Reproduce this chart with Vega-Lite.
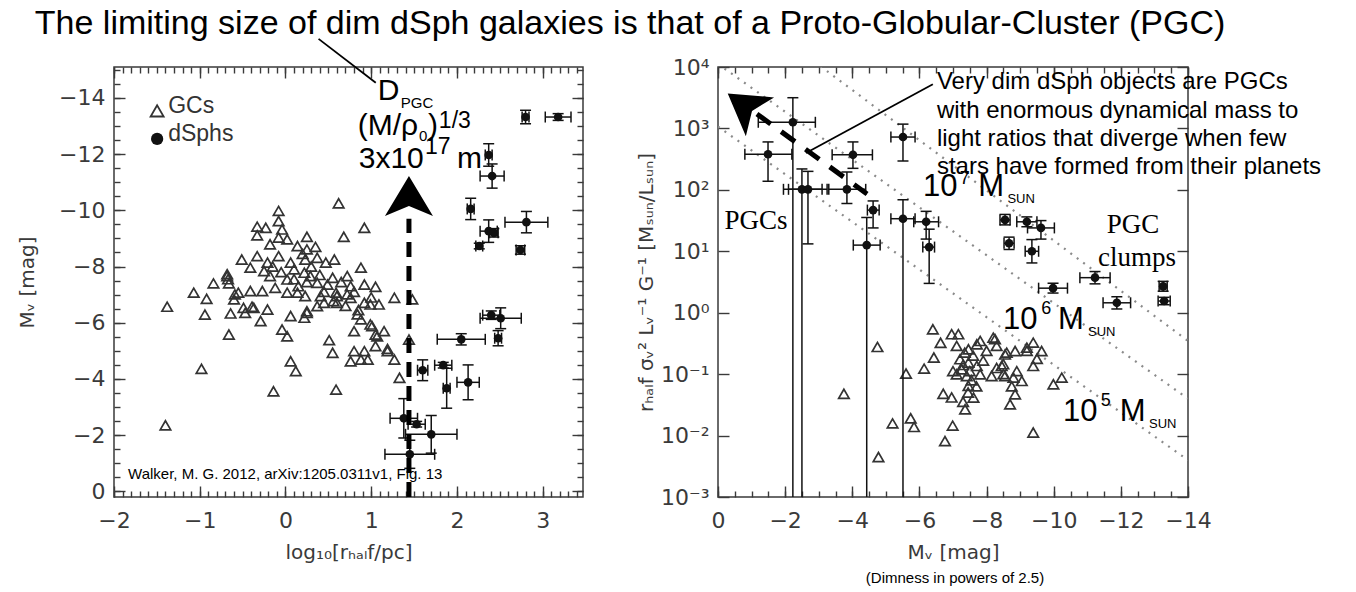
{
"$schema": "https://vega.github.io/schema/vega-lite/v6.json",
"background": "white",
"padding": {"left": 16, "top": 6, "right": 0, "bottom": 0},
"title": {"text": "The limiting size of dim dSph galaxies is that of a Proto-Globular-Cluster (PGC)", "font": "Liberation Sans", "fontSize": 34, "fontWeight": "normal", "color": "#000", "anchor": "start", "dx": 18, "offset": -6},
"spacing": 50,
"datasets": {
"leftGC": [{"x":0.62,"y":-10.25},{"x":-0.08,"y":-9.98},{"x":0.92,"y":-9.38},{"x":0.68,"y":-9.06},{"x":-0.33,"y":-9.42},{"x":-0.23,"y":-9.38},{"x":-0.08,"y":-9.62},{"x":-0.04,"y":-9.32},{"x":0.25,"y":-9.06},{"x":-0.33,"y":-9.11},{"x":-0.18,"y":-8.79},{"x":0.02,"y":-8.97},{"x":0.14,"y":-8.73},{"x":-0.08,"y":-9.03},{"x":0.25,"y":-8.61},{"x":-0.51,"y":-8.25},{"x":-0.33,"y":-8.37},{"x":-0.21,"y":-8.14},{"x":-0.08,"y":-8.37},{"x":0.06,"y":-8.14},{"x":0.23,"y":-8.25},{"x":0.37,"y":-8.31},{"x":0.47,"y":-8.14},{"x":0.57,"y":-8.25},{"x":0.88,"y":-7.96},{"x":0.72,"y":-7.66},{"x":-0.41,"y":-7.96},{"x":-0.25,"y":-7.84},{"x":-0.68,"y":-7.66},{"x":-0.84,"y":-7.4},{"x":-0.66,"y":-7.4},{"x":-0.18,"y":-7.66},{"x":0.02,"y":-7.54},{"x":0.22,"y":-7.78},{"x":0.29,"y":-7.66},{"x":0.37,"y":-7.42},{"x":0.49,"y":-7.36},{"x":0.76,"y":-7.3},{"x":0.92,"y":-7.36},{"x":1.05,"y":-7.28},{"x":-1.07,"y":-7.07},{"x":-0.92,"y":-6.85},{"x":-0.59,"y":-7.01},{"x":-0.41,"y":-7.13},{"x":-0.27,"y":-7.13},{"x":-0.12,"y":-7.24},{"x":0.02,"y":-7.07},{"x":0.14,"y":-7.07},{"x":0.23,"y":-6.95},{"x":0.41,"y":-6.95},{"x":0.59,"y":-7.07},{"x":0.45,"y":-6.71},{"x":0.6,"y":-6.71},{"x":0.76,"y":-6.89},{"x":0.92,"y":-6.71},{"x":0.99,"y":-6.65},{"x":1.09,"y":-6.65},{"x":1.27,"y":-6.89},{"x":-1.38,"y":-6.57},{"x":-0.94,"y":-6.29},{"x":-0.64,"y":-6.33},{"x":-0.49,"y":-6.53},{"x":-0.39,"y":-6.57},{"x":-0.21,"y":-6.47},{"x":0.06,"y":-6.24},{"x":0.22,"y":-6.18},{"x":0.25,"y":-6.41},{"x":-0.29,"y":-6.06},{"x":0.88,"y":-6.12},{"x":0.99,"y":-5.94},{"x":-0.04,"y":-5.76},{"x":0.02,"y":-5.52},{"x":0.8,"y":-5.7},{"x":1.15,"y":-5.7},{"x":1.07,"y":-5.52},{"x":-0.66,"y":-5.58},{"x":0.51,"y":-5.38},{"x":0.55,"y":-4.93},{"x":0.8,"y":-4.99},{"x":0.92,"y":-4.99},{"x":0.96,"y":-4.69},{"x":0.76,"y":-4.63},{"x":1.19,"y":-5.07},{"x":1.27,"y":-4.69},{"x":-0.98,"y":-4.36},{"x":0.06,"y":-4.63},{"x":0.12,"y":-4.28},{"x":1.33,"y":-4.04},{"x":-0.14,"y":-3.56},{"x":0.59,"y":-3.62},{"x":-1.4,"y":-2.35},{"x":1.05,"y":-5.17},{"x":1.01,"y":-5.88},{"x":1.05,"y":-5.58},{"x":0.84,"y":-6.3},{"x":0.25,"y":-6.35},{"x":0.37,"y":-6.59},{"x":0.56,"y":-6.77},{"x":0.72,"y":-7.01},{"x":-0.47,"y":-6.35},{"x":-0.37,"y":-6.53},{"x":-0.6,"y":-6.83},{"x":-0.55,"y":-7.07},{"x":1.48,"y":-6.83},{"x":1.19,"y":-4.99},{"x":1.44,"y":-5.4},{"x":-0.68,"y":-7.73},{"x":-0.67,"y":-7.55},{"x":0.88,"y":-4.69},{"x":0.1,"y":-7.9},{"x":0.3,"y":-8.0},{"x":0.15,"y":-7.3},{"x":0.4,"y":-7.7},{"x":0.55,"y":-7.6},{"x":-0.05,"y":-7.8},{"x":0.2,"y":-8.45},{"x":0.35,"y":-8.7},{"x":0.45,"y":-7.1},{"x":0.65,"y":-7.45},{"x":0.8,"y":-7.1},{"x":0.1,"y":-7.55},{"x":-0.15,"y":-8.0},{"x":0.25,"y":-7.45},{"x":0.6,"y":-6.95},{"x":0.7,"y":-6.6},{"x":0.85,"y":-6.45},{"x":1.0,"y":-6.9}],
"leftDS": [{"x":2.8,"y":-13.32,"xlo":2.76,"xhi":2.84,"ylo":-13.56,"yhi":-13.08},{"x":3.18,"y":-13.32,"xlo":3.03,"xhi":3.33,"ylo":-13.44,"yhi":-13.2},{"x":2.37,"y":-11.97,"xlo":2.33,"xhi":2.41,"ylo":-12.37,"yhi":-11.57},{"x":2.41,"y":-11.22,"xlo":2.27,"xhi":2.55,"ylo":-11.65,"yhi":-10.79},{"x":2.16,"y":-10.05,"xlo":2.12,"xhi":2.2,"ylo":-10.43,"yhi":-9.67},{"x":2.81,"y":-9.58,"xlo":2.56,"xhi":3.06,"ylo":-9.96,"yhi":-9.2},{"x":2.37,"y":-9.26,"xlo":2.27,"xhi":2.47,"ylo":-9.66,"yhi":-8.86},{"x":2.43,"y":-9.2,"xlo":2.38,"xhi":2.48,"ylo":-9.35,"yhi":-9.05},{"x":2.26,"y":-8.73,"xlo":2.22,"xhi":2.3,"ylo":-8.83,"yhi":-8.63},{"x":2.74,"y":-8.59,"xlo":2.69,"xhi":2.79,"ylo":-8.74,"yhi":-8.44},{"x":2.4,"y":-6.27,"xlo":2.3,"xhi":2.5,"ylo":-6.42,"yhi":-6.12},{"x":2.51,"y":-6.16,"xlo":2.27,"xhi":2.75,"ylo":-6.53,"yhi":-5.79},{"x":2.05,"y":-5.41,"xlo":1.77,"xhi":2.33,"ylo":-5.61,"yhi":-5.21},{"x":2.48,"y":-5.45,"xlo":2.44,"xhi":2.52,"ylo":-5.72,"yhi":-5.18},{"x":1.6,"y":-4.31,"xlo":1.54,"xhi":1.66,"ylo":-4.68,"yhi":-3.94},{"x":1.84,"y":-4.49,"xlo":1.74,"xhi":1.94,"ylo":-4.59,"yhi":-4.39},{"x":1.88,"y":-3.67,"xlo":1.84,"xhi":1.92,"ylo":-4.38,"yhi":-2.96},{"x":2.13,"y":-3.88,"xlo":2.0,"xhi":2.26,"ylo":-4.5,"yhi":-3.26},{"x":1.38,"y":-2.6,"xlo":1.22,"xhi":1.54,"ylo":-3.3,"yhi":-1.9},{"x":1.53,"y":-2.39,"xlo":1.43,"xhi":1.63,"ylo":-2.49,"yhi":-2.29},{"x":1.7,"y":-2.03,"xlo":1.4,"xhi":2.0,"ylo":-2.7,"yhi":-1.36},{"x":1.45,"y":-1.32,"xlo":1.16,"xhi":1.74,"ylo":-1.82,"yhi":-0.82}],
"rightGC": [{"x":-3.75,"y":0.0479},{"x":-4.75,"y":0.277},{"x":-4.78,"y":0.00447},{"x":-5.2,"y":0.0158},{"x":-5.6,"y":0.102},{"x":-5.74,"y":0.0191},{"x":-5.84,"y":0.0138},{"x":-6.4,"y":0.537},{"x":-6.63,"y":0.324},{"x":-6.43,"y":0.186},{"x":-6.14,"y":0.123},{"x":-6.71,"y":0.0479},{"x":-6.96,"y":0.0417},{"x":-6.99,"y":0.0145},{"x":-6.76,"y":0.00813},{"x":-6.96,"y":0.447},{"x":-7.16,"y":0.447},{"x":-7.11,"y":0.288},{"x":-7.46,"y":0.254},{"x":-7.71,"y":0.306},{"x":-7.81,"y":0.347},{"x":-8.2,"y":0.393},{"x":-8.3,"y":0.288},{"x":-8.6,"y":0.224},{"x":-8.85,"y":0.238},{"x":-9.2,"y":0.27},{"x":-9.39,"y":0.326},{"x":-9.64,"y":0.238},{"x":-7.21,"y":0.175},{"x":-7.26,"y":0.12},{"x":-7.46,"y":0.154},{"x":-7.71,"y":0.136},{"x":-7.11,"y":0.0993},{"x":-7.41,"y":0.0933},{"x":-7.81,"y":0.0993},{"x":-8.15,"y":0.0933},{"x":-8.45,"y":0.136},{"x":-8.55,"y":0.0933},{"x":-8.8,"y":0.0877},{"x":-9.05,"y":0.0774},{"x":-9.39,"y":0.136},{"x":-9.99,"y":0.0684},{"x":-10.24,"y":0.0877},{"x":-7.46,"y":0.0643},{"x":-7.61,"y":0.0415},{"x":-7.36,"y":0.0268},{"x":-8.7,"y":0.0323},{"x":-8.85,"y":0.047},{"x":-9.39,"y":0.0112},{"x":-8.25,"y":0.372},{"x":-8.55,"y":0.209},{"x":-9.2,"y":0.24},{"x":-8.5,"y":0.145},{"x":-8.5,"y":0.1},{"x":-7.3,"y":0.141},{"x":-7.5,"y":0.112},{"x":-7.6,"y":0.2},{"x":-7.9,"y":0.166},{"x":-7.0,"y":0.112},{"x":-8.0,"y":0.24},{"x":-7.35,"y":0.224},{"x":-7.55,"y":0.0794},{"x":-7.7,"y":0.0631},{"x":-8.3,"y":0.126},{"x":-8.9,"y":0.112},{"x":-9.5,"y":0.178},{"x":-7.45,"y":0.0501},{"x":-7.3,"y":0.0355},{"x":-8.75,"y":0.0631}],
"rightDS": [{"x":-2.23,"y":1259,"xlo":-1.2,"xhi":-2.9,"ylo":0.00001,"yhi":3162},{"x":-1.49,"y":380,"xlo":-0.8,"xhi":-2.2,"ylo":138,"yhi":603},{"x":-2.5,"y":102,"xlo":-1.95,"xhi":-3.1,"ylo":0.00001,"yhi":219},{"x":-2.68,"y":102,"xlo":-2.1,"xhi":-3.25,"ylo":13.2,"yhi":200},{"x":-3.84,"y":102,"xlo":-3.3,"xhi":-4.4,"ylo":60,"yhi":195},{"x":-4.02,"y":372,"xlo":-3.4,"xhi":-4.6,"ylo":224,"yhi":603},{"x":-5.51,"y":724,"xlo":-5.15,"xhi":-5.87,"ylo":295,"yhi":1175},{"x":-4.62,"y":46.8,"xlo":-4.45,"xhi":-4.8,"ylo":24,"yhi":66},{"x":-4.43,"y":12.6,"xlo":-4.03,"xhi":-4.83,"ylo":0.00001,"yhi":35.5},{"x":-5.51,"y":33.9,"xlo":-5.15,"xhi":-5.87,"ylo":0.00001,"yhi":69},{"x":-6.2,"y":30.2,"xlo":-5.83,"xhi":-6.57,"ylo":15.8,"yhi":44.7},{"x":-6.29,"y":11.7,"xlo":-6.1,"xhi":-6.45,"ylo":3.0,"yhi":22.9},{"x":-8.55,"y":32.4,"xlo":-8.4,"xhi":-8.7,"ylo":26.9,"yhi":39.8},{"x":-9.2,"y":30.2,"xlo":-8.9,"xhi":-9.5,"ylo":25.1,"yhi":36.3},{"x":-9.62,"y":24.0,"xlo":-9.22,"xhi":-10.02,"ylo":15.8,"yhi":31.6},{"x":-8.67,"y":13.5,"xlo":-8.52,"xhi":-8.82,"ylo":10.7,"yhi":17.0},{"x":-9.35,"y":10.0,"xlo":-9.15,"xhi":-9.55,"ylo":6.46,"yhi":15.5},{"x":-9.98,"y":2.51,"xlo":-9.55,"xhi":-10.41,"ylo":2.09,"yhi":3.02},{"x":-11.23,"y":3.72,"xlo":-10.78,"xhi":-11.68,"ylo":2.95,"yhi":4.68},{"x":-11.88,"y":1.45,"xlo":-11.47,"xhi":-12.29,"ylo":1.15,"yhi":1.82},{"x":-13.26,"y":2.69,"xlo":-13.14,"xhi":-13.38,"ylo":2.24,"yhi":3.24},{"x":-13.29,"y":1.55,"xlo":-13.11,"xhi":-13.47,"ylo":1.35,"yhi":1.78}],
"massLines": [{"m":"1e7","x":0,"y":181970},{"m":"1e7","x":-14,"y":0.3467},{"m":"1e6","x":0,"y":11220},{"m":"1e6","x":-14,"y":0.0398},{"m":"1e5","x":0,"y":1072},{"m":"1e5","x":-14,"y":0.00398}]
},
"hconcat": [
{
"width": 469, "height": 430,
"resolve": {"axis": {"x": "independent", "y": "independent"}},
"layer": [
{"data": {"name": "leftGC"}, "mark": {"type": "point", "shape": "triangle-up", "filled": false, "strokeWidth": 1.7, "color": "#333", "size": 110, "opacity": 1},
 "encoding": {
  "x": {"field": "x", "type": "quantitative", "scale": {"domain": [-2, 3.47], "nice": false, "zero": false}, "axis": {"orient": "bottom", "values": [-2,-1,0,1,2,3], "ticks": false, "labelPadding": 13, "title": "log₁₀[rₕₐₗf/pc]", "titlePadding": 11}},
  "y": {"field": "y", "type": "quantitative", "scale": {"domain": [-15.1, 0.2], "reverse": true, "nice": false, "zero": false}, "axis": {"orient": "left", "values": [-14,-12,-10,-8,-6,-4,-2,0], "ticks": false, "labelPadding": 9, "title": "Mᵥ [mag]", "titlePadding": 21}}
 }},
{"data": {"name": "leftDS"}, "mark": {"type": "rule", "strokeWidth": 1.5, "color": "#111"},
 "encoding": {
  "x": {"field": "xlo", "type": "quantitative", "scale": {"domain": [-2, 3.47], "nice": false, "zero": false}, "axis": {"orient": "bottom", "values": [-2,-1,0,1,2,3], "tickSize": -11, "labels": false, "title": null}},
  "x2": {"field": "xhi"},
  "y": {"field": "y", "type": "quantitative", "scale": {"domain": [-15.1, 0.2], "reverse": true, "nice": false, "zero": false}, "axis": {"orient": "left", "values": [-14,-12,-10,-8,-6,-4,-2,0], "tickSize": -11, "labels": false, "title": null}}
 }},
{"data": {"name": "leftDS"}, "mark": {"type": "rule", "strokeWidth": 1.5, "color": "#111"},
 "encoding": {
  "x": {"field": "x", "type": "quantitative", "scale": {"domain": [-2, 3.47], "nice": false, "zero": false}, "axis": {"orient": "bottom", "values": [-2,-1.9,-1.8,-1.7,-1.6,-1.5,-1.4,-1.3,-1.2,-1.1,-1,-0.9,-0.8,-0.7,-0.6,-0.5,-0.4,-0.3,-0.2,-0.1,0,0.1,0.2,0.3,0.4,0.5,0.6,0.7,0.8,0.9,1,1.1,1.2,1.3,1.4,1.5,1.6,1.7,1.8,1.9,2,2.1,2.2,2.3,2.4,2.5,2.6,2.7,2.8,2.9,3,3.1,3.2,3.3,3.4], "tickSize": -6, "labels": false, "title": null}},
  "y": {"field": "ylo", "type": "quantitative", "scale": {"domain": [-15.1, 0.2], "reverse": true, "nice": false, "zero": false}, "axis": {"orient": "left", "values": [-15,-14.5,-14,-13.5,-13,-12.5,-12,-11.5,-11,-10.5,-10,-9.5,-9,-8.5,-8,-7.5,-7,-6.5,-6,-5.5,-5,-4.5,-4,-3.5,-3,-2.5,-2,-1.5,-1,-0.5,0], "tickSize": -6, "labels": false, "title": null}},
  "y2": {"field": "yhi"}
 }},
{"data": {"name": "leftDS"}, "mark": {"type": "tick", "orient": "horizontal", "size": 11, "thickness": 1.5, "color": "#111", "opacity": 1},
 "encoding": {
  "x": {"field": "x", "type": "quantitative", "scale": {"domain": [-2, 3.47], "nice": false, "zero": false}, "axis": {"orient": "top", "values": [-2,-1,0,1,2,3], "tickSize": -11, "labels": false, "title": null}},
  "y": {"field": "ylo", "type": "quantitative", "scale": {"domain": [-15.1, 0.2], "reverse": true, "nice": false, "zero": false}, "axis": {"orient": "right", "values": [-14,-12,-10,-8,-6,-4,-2,0], "tickSize": -11, "labels": false, "title": null}}
 }},
{"data": {"name": "leftDS"}, "mark": {"type": "tick", "orient": "horizontal", "size": 11, "thickness": 1.5, "color": "#111", "opacity": 1},
 "encoding": {
  "x": {"field": "x", "type": "quantitative", "scale": {"domain": [-2, 3.47], "nice": false, "zero": false}, "axis": {"orient": "top", "values": [-2,-1.9,-1.8,-1.7,-1.6,-1.5,-1.4,-1.3,-1.2,-1.1,-1,-0.9,-0.8,-0.7,-0.6,-0.5,-0.4,-0.3,-0.2,-0.1,0,0.1,0.2,0.3,0.4,0.5,0.6,0.7,0.8,0.9,1,1.1,1.2,1.3,1.4,1.5,1.6,1.7,1.8,1.9,2,2.1,2.2,2.3,2.4,2.5,2.6,2.7,2.8,2.9,3,3.1,3.2,3.3,3.4], "tickSize": -6, "labels": false, "title": null}},
  "y": {"field": "yhi", "type": "quantitative", "scale": {"domain": [-15.1, 0.2], "reverse": true, "nice": false, "zero": false}, "axis": {"orient": "right", "values": [-15,-14.5,-14,-13.5,-13,-12.5,-12,-11.5,-11,-10.5,-10,-9.5,-9,-8.5,-8,-7.5,-7,-6.5,-6,-5.5,-5,-4.5,-4,-3.5,-3,-2.5,-2,-1.5,-1,-0.5,0], "tickSize": -6, "labels": false, "title": null}}
 }},
{"data": {"name": "leftDS"}, "mark": {"type": "tick", "orient": "vertical", "size": 11, "thickness": 1.5, "color": "#111", "opacity": 1},
 "encoding": {
  "x": {"field": "xlo", "type": "quantitative", "scale": {"domain": [-2, 3.47], "nice": false, "zero": false}, "axis": null},
  "y": {"field": "y", "type": "quantitative", "scale": {"domain": [-15.1, 0.2], "reverse": true, "nice": false, "zero": false}, "axis": null}
 }},
{"data": {"name": "leftDS"}, "mark": {"type": "tick", "orient": "vertical", "size": 11, "thickness": 1.5, "color": "#111", "opacity": 1},
 "encoding": {
  "x": {"field": "xhi", "type": "quantitative", "scale": {"domain": [-2, 3.47], "nice": false, "zero": false}, "axis": null},
  "y": {"field": "y", "type": "quantitative", "scale": {"domain": [-15.1, 0.2], "reverse": true, "nice": false, "zero": false}, "axis": null}
 }},
{"data": {"name": "leftDS"}, "mark": {"type": "point", "shape": "circle", "filled": true, "size": 75, "color": "#111", "opacity": 1},
 "encoding": {
  "x": {"field": "x", "type": "quantitative", "scale": {"domain": [-2, 3.47], "nice": false, "zero": false}, "axis": null},
  "y": {"field": "y", "type": "quantitative", "scale": {"domain": [-15.1, 0.2], "reverse": true, "nice": false, "zero": false}, "axis": null}
 }},
{"data": {"values": [{"x":-1.497,"y":-13.54}]}, "mark": {"type": "point", "shape": "triangle-up", "filled": false, "strokeWidth": 1.8, "color": "#333", "size": 170, "opacity": 1},
 "encoding": {
  "x": {"field": "x", "type": "quantitative", "scale": {"domain": [-2, 3.47], "nice": false, "zero": false}, "axis": null},
  "y": {"field": "y", "type": "quantitative", "scale": {"domain": [-15.1, 0.2], "reverse": true, "nice": false, "zero": false}, "axis": null}
 }},
{"data": {"values": [{"x":-1.497,"y":-12.54}]}, "mark": {"type": "point", "shape": "circle", "filled": true, "color": "#111", "size": 150, "opacity": 1},
 "encoding": {
  "x": {"field": "x", "type": "quantitative", "scale": {"domain": [-2, 3.47], "nice": false, "zero": false}, "axis": null},
  "y": {"field": "y", "type": "quantitative", "scale": {"domain": [-15.1, 0.2], "reverse": true, "nice": false, "zero": false}, "axis": null}
 }},
{"data": {"values": [{"x":-1.368,"y":-13.47,"t":"GCs"},{"x":-1.368,"y":-12.47,"t":"dSphs"}]},
 "mark": {"type": "text", "font": "Liberation Sans", "fontSize": 23, "align": "left", "baseline": "alphabetic", "color": "#333"},
 "encoding": {
  "x": {"field": "x", "type": "quantitative", "scale": {"domain": [-2, 3.47], "nice": false, "zero": false}, "axis": null},
  "y": {"field": "y", "type": "quantitative", "scale": {"domain": [-15.1, 0.2], "reverse": true, "nice": false, "zero": false}, "axis": null},
  "text": {"field": "t"}
 }},
{"data": {"values": [{"x":1.44,"y":0.2},{"x":1.44,"y":-9.7}]}, "mark": {"type": "line", "strokeWidth": 5, "color": "#000", "strokeDash": [15, 9], "strokeCap": "butt", "clip": true},
 "encoding": {
  "x": {"field": "x", "type": "quantitative", "scale": {"domain": [-2, 3.47], "nice": false, "zero": false}, "axis": null},
  "y": {"field": "y", "type": "quantitative", "scale": {"domain": [-15.1, 0.2], "reverse": true, "nice": false, "zero": false}, "axis": null}
 }},
{"data": {"values": [{"x":1.44,"y":-10.51}]}, "mark": {"type": "point", "shape": "M0,-0.83L1,0.83L0,0.42L-1,0.83Z", "size": 2304, "filled": true, "color": "#000", "opacity": 1},
 "encoding": {
  "x": {"field": "x", "type": "quantitative", "scale": {"domain": [-2, 3.47], "nice": false, "zero": false}, "axis": null},
  "y": {"field": "y", "type": "quantitative", "scale": {"domain": [-15.1, 0.2], "reverse": true, "nice": false, "zero": false}, "axis": null}
 }},
{"data": {"values": [{"x":0.386,"y":-16.1},{"x":1.053,"y":-14.54}]}, "mark": {"type": "line", "strokeWidth": 1.8, "color": "#000", "clip": false},
 "encoding": {
  "x": {"field": "x", "type": "quantitative", "scale": {"domain": [-2, 3.47], "nice": false, "zero": false}, "axis": null},
  "y": {"field": "y", "type": "quantitative", "scale": {"domain": [-15.1, 0.2], "reverse": true, "nice": false, "zero": false}, "axis": null}
 }},
{"data": {"values": [{"x":1.076,"y":-13.93,"t":"D"},{"x":0.842,"y":-12.68,"t":"(M/ρ"},{"x":1.661,"y":-12.68,"t":")"},{"x":0.854,"y":-11.51,"t":"3x10"},{"x":2.0,"y":-11.51,"t":"m"}]},
 "mark": {"type": "text", "font": "Liberation Sans", "fontSize": 30, "align": "left", "baseline": "alphabetic", "color": "#000"},
 "encoding": {
  "x": {"field": "x", "type": "quantitative", "scale": {"domain": [-2, 3.47], "nice": false, "zero": false}, "axis": null},
  "y": {"field": "y", "type": "quantitative", "scale": {"domain": [-15.1, 0.2], "reverse": true, "nice": false, "zero": false}, "axis": null},
  "text": {"field": "t"}
 }},
{"data": {"values": [{"x":1.345,"y":-13.64,"t":"PGC"},{"x":1.556,"y":-12.47,"t":"0"}]},
 "mark": {"type": "text", "font": "Liberation Sans", "fontSize": 15, "align": "left", "baseline": "alphabetic", "color": "#000"},
 "encoding": {
  "x": {"field": "x", "type": "quantitative", "scale": {"domain": [-2, 3.47], "nice": false, "zero": false}, "axis": null},
  "y": {"field": "y", "type": "quantitative", "scale": {"domain": [-15.1, 0.2], "reverse": true, "nice": false, "zero": false}, "axis": null},
  "text": {"field": "t"}
 }},
{"data": {"values": [{"x":1.789,"y":-12.93,"t":"1/3"},{"x":1.626,"y":-12.01,"t":"17"}]},
 "mark": {"type": "text", "font": "Liberation Sans", "fontSize": 23, "align": "left", "baseline": "alphabetic", "color": "#000"},
 "encoding": {
  "x": {"field": "x", "type": "quantitative", "scale": {"domain": [-2, 3.47], "nice": false, "zero": false}, "axis": null},
  "y": {"field": "y", "type": "quantitative", "scale": {"domain": [-15.1, 0.2], "reverse": true, "nice": false, "zero": false}, "axis": null},
  "text": {"field": "t"}
 }},
{"data": {"values": [{"x":-1.836,"y":-0.43,"t":"Walker, M. G. 2012, arXiv:1205.0311v1,  Fig. 13"}]},
 "mark": {"type": "text", "font": "Liberation Sans", "fontSize": 15, "align": "left", "baseline": "alphabetic", "color": "#000"},
 "encoding": {
  "x": {"field": "x", "type": "quantitative", "scale": {"domain": [-2, 3.47], "nice": false, "zero": false}, "axis": null},
  "y": {"field": "y", "type": "quantitative", "scale": {"domain": [-15.1, 0.2], "reverse": true, "nice": false, "zero": false}, "axis": null},
  "text": {"field": "t"}
 }}
]
},
{
"width": 470, "height": 430,
"resolve": {"axis": {"x": "independent", "y": "independent"}},
"layer": [
{"data": {"name": "massLines"}, "mark": {"type": "line", "strokeWidth": 2.2, "color": "#8a8a8a", "strokeDash": [2, 6], "clip": true},
 "encoding": {
  "x": {"field": "x", "type": "quantitative", "scale": {"domain": [-14, 0], "reverse": true, "nice": false, "zero": false}, "axis": {"orient": "bottom", "values": [0,-2,-4,-6,-8,-10,-12,-14], "ticks": false, "labelPadding": 13, "title": "Mᵥ [mag]", "titlePadding": 11}},
  "y": {"field": "y", "type": "quantitative", "scale": {"type": "log", "domain": [0.001, 10000], "nice": false}, "axis": {"orient": "left", "values": [0.001,0.01,0.1,1,10,100,1000,10000], "ticks": false, "labelPadding": 9, "labelExpr": "'10' + ['⁻³','⁻²','⁻¹','⁰','¹','²','³','⁴'][round(log(datum.value)/LN10) + 3]", "title": "rₕₐₗf σᵥ² Lᵥ⁻¹ G⁻¹ [Mₛᵤₙ/Lₛᵤₙ]", "titlePadding": 4}},
  "detail": {"field": "m"}
 }},
{"data": {"name": "rightGC"}, "mark": {"type": "point", "shape": "triangle-up", "filled": false, "strokeWidth": 1.7, "color": "#333", "size": 110, "opacity": 1},
 "encoding": {
  "x": {"field": "x", "type": "quantitative", "scale": {"domain": [-14, 0], "reverse": true, "nice": false, "zero": false}, "axis": {"orient": "bottom", "values": [0,-2,-4,-6,-8,-10,-12,-14], "tickSize": -11, "labels": false, "title": null}},
  "y": {"field": "y", "type": "quantitative", "scale": {"type": "log", "domain": [0.001, 10000], "nice": false}, "axis": {"orient": "left", "values": [0.001,0.01,0.1,1,10,100,1000,10000], "tickSize": -11, "labels": false, "title": null}}
 }},
{"data": {"name": "rightDS"}, "mark": {"type": "rule", "strokeWidth": 1.5, "color": "#111", "clip": true},
 "encoding": {
  "x": {"field": "xlo", "type": "quantitative", "scale": {"domain": [-14, 0], "reverse": true, "nice": false, "zero": false}, "axis": {"orient": "bottom", "values": [0,-0.5,-1,-1.5,-2,-2.5,-3,-3.5,-4,-4.5,-5,-5.5,-6,-6.5,-7,-7.5,-8,-8.5,-9,-9.5,-10,-10.5,-11,-11.5,-12,-12.5,-13,-13.5,-14], "tickSize": -6, "labels": false, "title": null}},
  "x2": {"field": "xhi"},
  "y": {"field": "y", "type": "quantitative", "scale": {"type": "log", "domain": [0.001, 10000], "nice": false}, "axis": {"orient": "right", "values": [0.001,0.01,0.1,1,10,100,1000,10000], "tickSize": -11, "labels": false, "title": null}}
 }},
{"data": {"name": "rightDS"}, "mark": {"type": "rule", "strokeWidth": 1.5, "color": "#111", "clip": true},
 "encoding": {
  "x": {"field": "x", "type": "quantitative", "scale": {"domain": [-14, 0], "reverse": true, "nice": false, "zero": false}, "axis": {"orient": "top", "values": [0,-2,-4,-6,-8,-10,-12,-14], "tickSize": -11, "labels": false, "title": null}},
  "y": {"field": "ylo", "type": "quantitative", "scale": {"type": "log", "domain": [0.001, 10000], "nice": false}, "axis": null},
  "y2": {"field": "yhi"}
 }},
{"data": {"name": "rightDS"}, "mark": {"type": "tick", "orient": "horizontal", "size": 11, "thickness": 1.5, "color": "#111", "opacity": 1, "clip": true},
 "encoding": {
  "x": {"field": "x", "type": "quantitative", "scale": {"domain": [-14, 0], "reverse": true, "nice": false, "zero": false}, "axis": {"orient": "top", "values": [0,-0.5,-1,-1.5,-2,-2.5,-3,-3.5,-4,-4.5,-5,-5.5,-6,-6.5,-7,-7.5,-8,-8.5,-9,-9.5,-10,-10.5,-11,-11.5,-12,-12.5,-13,-13.5,-14], "tickSize": -6, "labels": false, "title": null}},
  "y": {"field": "ylo", "type": "quantitative", "scale": {"type": "log", "domain": [0.001, 10000], "nice": false}, "axis": null}
 }},
{"data": {"name": "rightDS"}, "mark": {"type": "tick", "orient": "horizontal", "size": 11, "thickness": 1.5, "color": "#111", "opacity": 1, "clip": true},
 "encoding": {
  "x": {"field": "x", "type": "quantitative", "scale": {"domain": [-14, 0], "reverse": true, "nice": false, "zero": false}, "axis": null},
  "y": {"field": "yhi", "type": "quantitative", "scale": {"type": "log", "domain": [0.001, 10000], "nice": false}, "axis": null}
 }},
{"data": {"name": "rightDS"}, "mark": {"type": "tick", "orient": "vertical", "size": 11, "thickness": 1.5, "color": "#111", "opacity": 1},
 "encoding": {
  "x": {"field": "xlo", "type": "quantitative", "scale": {"domain": [-14, 0], "reverse": true, "nice": false, "zero": false}, "axis": null},
  "y": {"field": "y", "type": "quantitative", "scale": {"type": "log", "domain": [0.001, 10000], "nice": false}, "axis": null}
 }},
{"data": {"name": "rightDS"}, "mark": {"type": "tick", "orient": "vertical", "size": 11, "thickness": 1.5, "color": "#111", "opacity": 1},
 "encoding": {
  "x": {"field": "xhi", "type": "quantitative", "scale": {"domain": [-14, 0], "reverse": true, "nice": false, "zero": false}, "axis": null},
  "y": {"field": "y", "type": "quantitative", "scale": {"type": "log", "domain": [0.001, 10000], "nice": false}, "axis": null}
 }},
{"data": {"name": "rightDS"}, "mark": {"type": "point", "shape": "circle", "filled": true, "size": 75, "color": "#111", "opacity": 1},
 "encoding": {
  "x": {"field": "x", "type": "quantitative", "scale": {"domain": [-14, 0], "reverse": true, "nice": false, "zero": false}, "axis": null},
  "y": {"field": "y", "type": "quantitative", "scale": {"type": "log", "domain": [0.001, 10000], "nice": false}, "axis": null}
 }},
{"data": {"values": [{"x":-4.44,"y":85.7},{"x":-1.16,"y":1718}]}, "mark": {"type": "line", "strokeWidth": 5, "color": "#000", "strokeDash": [17, 13], "strokeCap": "butt"},
 "encoding": {
  "x": {"field": "x", "type": "quantitative", "scale": {"domain": [-14, 0], "reverse": true, "nice": false, "zero": false}, "axis": null},
  "y": {"field": "y", "type": "quantitative", "scale": {"type": "log", "domain": [0.001, 10000], "nice": false}, "axis": null}
 }},
{"data": {"values": [{"x":-0.77,"y":2399}]}, "mark": {"type": "point", "shape": "M0,-0.83L1,0.83L0,0.42L-1,0.83Z", "size": 2304, "angle": -54, "filled": true, "color": "#000", "opacity": 1},
 "encoding": {
  "x": {"field": "x", "type": "quantitative", "scale": {"domain": [-14, 0], "reverse": true, "nice": false, "zero": false}, "axis": null},
  "y": {"field": "y", "type": "quantitative", "scale": {"type": "log", "domain": [0.001, 10000], "nice": false}, "axis": null}
 }},
{"data": {"values": [{"x":-6.4,"y":5248},{"x":-2.62,"y":398}]}, "mark": {"type": "line", "strokeWidth": 1.8, "color": "#000"},
 "encoding": {
  "x": {"field": "x", "type": "quantitative", "scale": {"domain": [-14, 0], "reverse": true, "nice": false, "zero": false}, "axis": null},
  "y": {"field": "y", "type": "quantitative", "scale": {"type": "log", "domain": [0.001, 10000], "nice": false}, "axis": null}
 }},
{"data": {"values": [{"x":-6.52,"y":4385,"t":"Very dim dSph objects are PGCs"},{"x":-6.52,"y":1479,"t":"with enormous dynamical mass to"},{"x":-6.52,"y":517.6,"t":"light ratios that diverge when few"},{"x":-6.52,"y":181.2,"t":"stars have formed from their planets"}]},
 "mark": {"type": "text", "font": "Liberation Sans", "fontSize": 24, "align": "left", "baseline": "alphabetic", "color": "#000"},
 "encoding": {
  "x": {"field": "x", "type": "quantitative", "scale": {"domain": [-14, 0], "reverse": true, "nice": false, "zero": false}, "axis": null},
  "y": {"field": "y", "type": "quantitative", "scale": {"type": "log", "domain": [0.001, 10000], "nice": false}, "axis": null},
  "text": {"field": "t"}
 }},
{"data": {"values": [{"x":-6.107,"y":79.4,"t":"10"},{"x":-7.75,"y":79.4,"t":"M"},{"x":-8.49,"y":0.543,"t":"10"},{"x":-10.13,"y":0.543,"t":"M"},{"x":-10.28,"y":0.01726,"t":"10"},{"x":-11.97,"y":0.01726,"t":"M"}]},
 "mark": {"type": "text", "font": "Liberation Sans", "fontSize": 31, "align": "left", "baseline": "alphabetic", "color": "#000"},
 "encoding": {
  "x": {"field": "x", "type": "quantitative", "scale": {"domain": [-14, 0], "reverse": true, "nice": false, "zero": false}, "axis": null},
  "y": {"field": "y", "type": "quantitative", "scale": {"type": "log", "domain": [0.001, 10000], "nice": false}, "axis": null},
  "text": {"field": "t"}
 }},
{"data": {"values": [{"x":-7.2,"y":124.5,"t":"7"},{"x":-9.63,"y":0.953,"t":"6"},{"x":-11.4,"y":0.0303,"t":"5"}]},
 "mark": {"type": "text", "font": "Liberation Sans", "fontSize": 18, "align": "left", "baseline": "alphabetic", "color": "#000"},
 "encoding": {
  "x": {"field": "x", "type": "quantitative", "scale": {"domain": [-14, 0], "reverse": true, "nice": false, "zero": false}, "axis": null},
  "y": {"field": "y", "type": "quantitative", "scale": {"type": "log", "domain": [0.001, 10000], "nice": false}, "axis": null},
  "text": {"field": "t"}
 }},
{"data": {"values": [{"x":-8.62,"y":61.1,"t":"SUN"},{"x":-11.02,"y":0.418,"t":"SUN"},{"x":-12.84,"y":0.01327,"t":"SUN"}]},
 "mark": {"type": "text", "font": "Liberation Sans", "fontSize": 13, "align": "left", "baseline": "alphabetic", "color": "#000"},
 "encoding": {
  "x": {"field": "x", "type": "quantitative", "scale": {"domain": [-14, 0], "reverse": true, "nice": false, "zero": false}, "axis": null},
  "y": {"field": "y", "type": "quantitative", "scale": {"type": "log", "domain": [0.001, 10000], "nice": false}, "axis": null},
  "text": {"field": "t"}
 }},
{"data": {"values": [{"x":-1.13,"y":23.1,"t":"PGCs"},{"x":-12.36,"y":19.9,"t":"PGC"},{"x":-12.48,"y":5.77,"t":"clumps"}]},
 "mark": {"type": "text", "font": "Liberation Serif", "fontSize": 27, "align": "center", "baseline": "alphabetic", "color": "#000"},
 "encoding": {
  "x": {"field": "x", "type": "quantitative", "scale": {"domain": [-14, 0], "reverse": true, "nice": false, "zero": false}, "axis": null},
  "y": {"field": "y", "type": "quantitative", "scale": {"type": "log", "domain": [0.001, 10000], "nice": false}, "axis": null},
  "text": {"field": "t"}
 }},
{"data": {"values": [{"x":-7.06,"y":0.0000398,"t":"(Dimness in powers of 2.5)"}]},
 "mark": {"type": "text", "font": "Liberation Sans", "fontSize": 15, "align": "center", "baseline": "alphabetic", "color": "#000"},
 "encoding": {
  "x": {"field": "x", "type": "quantitative", "scale": {"domain": [-14, 0], "reverse": true, "nice": false, "zero": false}, "axis": null},
  "y": {"field": "y", "type": "quantitative", "scale": {"type": "log", "domain": [0.001, 10000], "nice": false}, "axis": null},
  "text": {"field": "t"}
 }}
]
}
],
"config": {
 "view": {"stroke": "#3a3a3a", "strokeWidth": 1.5},
 "axis": {"domain": false, "grid": false, "labelFont": "DejaVu Sans", "labelFontSize": 22, "labelColor": "#3a3a3a", "titleFont": "DejaVu Sans", "titleFontSize": 20, "titleFontWeight": "normal", "titleColor": "#3a3a3a", "tickColor": "#3a3a3a", "tickWidth": 1.4, "labelFlush": false, "labelOverlap": false}
}
}
